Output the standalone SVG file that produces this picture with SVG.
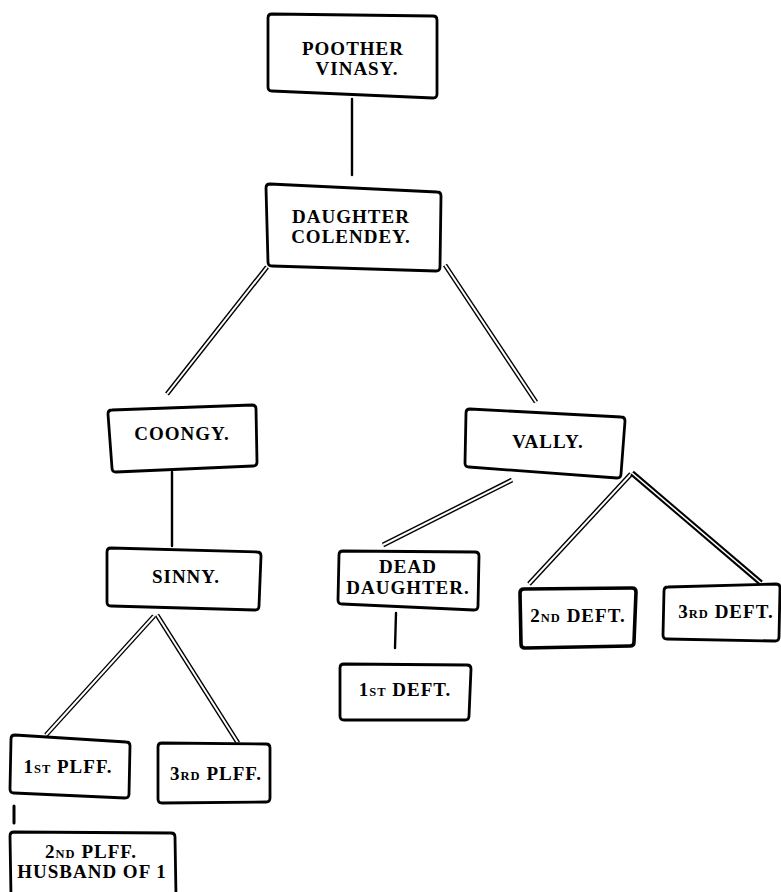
<svg xmlns="http://www.w3.org/2000/svg" xmlns:xlink="http://www.w3.org/1999/xlink" width="781" height="892" viewBox="0 0 781 892">
<style>
  .box { fill: #fff; stroke: #000; stroke-width: 2.8; stroke-linejoin: round; }
  .box.heavy { stroke-width: 3.6; }
  .single { stroke: #000; stroke-width: 2.4; fill: none; stroke-linecap: round; }
  .dbl { stroke: #000; stroke-width: 4.8; fill: none; }
  .dbl-gap { stroke: #fff; stroke-width: 2; fill: none; }
  .dbl.heavy { stroke-width: 5.6; }
  .dbl-gap.heavy { stroke-width: 1.6; }
  text { font-family: "Liberation Serif", "DejaVu Serif", serif; font-weight: bold; font-size: 19px; fill: #000; text-anchor: middle; letter-spacing: 1px; }
  .sc { font-size: 12.5px; }
</style>
<defs>
  <path id="c1" d="M267,267 L167,394"/>
  <path id="c2" d="M445,265 L536,402"/>
  <path id="c3" d="M512,480 L383,545"/>
  <path id="c4" d="M631,474 L529,584"/>
  <path id="c5" d="M632,473 L761,583"/>
  <path id="c6" d="M154,616 L46,735"/>
  <path id="c7" d="M157,615 L238,743"/>
</defs>
<g id="connectors">
  <line class="single" x1="352" y1="99" x2="352" y2="175"/>
  <line class="single" x1="172" y1="472" x2="172" y2="546"/>
  <line class="single" x1="396" y1="613" x2="395" y2="648"/>
  <line class="single" x1="14" y1="806" x2="14" y2="823" style="stroke-width:3"/>
  <use href="#c1" class="dbl"/><use href="#c1" class="dbl-gap"/>
  <use href="#c2" class="dbl"/><use href="#c2" class="dbl-gap"/>
  <use href="#c3" class="dbl"/><use href="#c3" class="dbl-gap"/>
  <use href="#c4" class="dbl"/><use href="#c4" class="dbl-gap"/>
  <use href="#c5" class="dbl heavy"/><use href="#c5" class="dbl-gap heavy"/>
  <use href="#c6" class="dbl"/><use href="#c6" class="dbl-gap"/>
  <use href="#c7" class="dbl"/><use href="#c7" class="dbl-gap"/>
</g>
<g id="pother">
  <path class="box" d="M272,14 L433,16 Q437,16 437,20 L437,94 Q437,98 433,98 L272,91 Q268,91 268,87 L268,18 Q268,14 272,14 Z"/>
  <text x="353" y="55">POOTHER</text>
  <text x="357" y="75">VINASY.</text>
</g>
<g id="daughter">
  <path class="box" d="M270,184 L437,192 Q441,192 441,196 L440,267 Q440,271 436,271 L272,266 Q268,266 268,262 L266,188 Q266,184 270,184 Z"/>
  <text x="351" y="223">DAUGHTER</text>
  <text x="351" y="243">COLENDEY.</text>
</g>
<g id="coongy">
  <path class="box" d="M112,410 L252,405 Q256,405 256,409 L257,462 Q257,466 253,466 L116,472 Q112,472 112,468 L108,414 Q108,410 112,410 Z"/>
  <text x="182" y="440">COONGY.</text>
</g>
<g id="sinny">
  <path class="box" d="M111,548 L257,552 Q261,552 261,556 L259,606 Q259,610 255,610 L111,606 Q107,606 107,602 L107,552 Q107,548 111,548 Z"/>
  <text x="186" y="583">SINNY.</text>
</g>
<g id="vally">
  <path class="box" d="M470,409 L621,417 Q625,417 625,421 L621,474 Q621,478 617,478 L469,467 Q465,467 465,463 L466,413 Q466,409 470,409 Z"/>
  <text x="548" y="448">VALLY.</text>
</g>
<g id="dead-daughter">
  <path class="box" d="M343,551 L475,552 Q479,552 479,556 L478,606 Q478,610 474,610 L342,604 Q338,604 338,600 L339,555 Q339,551 343,551 Z"/>
  <text x="408" y="573">DEAD</text>
  <text x="408" y="594">DAUGHTER.</text>
</g>
<g id="first-deft">
  <path class="box" d="M344,664 L467,665 Q471,665 471,669 L469,716 Q469,720 465,720 L344,720 Q340,720 340,716 L340,668 Q340,664 344,664 Z"/>
  <text x="405" y="696">1<tspan class="sc">ST</tspan> DEFT.</text>
</g>
<g id="second-deft">
  <path class="box heavy" d="M524,589 L632,588 Q636,588 636,592 L634,642 Q634,646 630,646 L525,648 Q521,648 521,644 L520,593 Q520,589 524,589 Z"/>
  <text x="578" y="622">2<tspan class="sc">ND</tspan> DEFT.</text>
</g>
<g id="third-deft">
  <path class="box" d="M668,587 L776,584 Q780,584 780,588 L779,637 Q779,641 775,641 L667,639 Q663,639 663,635 L664,591 Q664,587 668,587 Z"/>
  <text x="726" y="618">3<tspan class="sc">RD</tspan> DEFT.</text>
</g>
<g id="first-plff">
  <path class="box" d="M15,735 L126,742 Q130,742 130,746 L129,794 Q129,798 125,798 L14,793 Q10,793 10,789 L11,739 Q11,735 15,735 Z"/>
  <text x="68" y="773">1<tspan class="sc">ST</tspan> PLFF.</text>
</g>
<g id="third-plff">
  <path class="box" d="M162,743 L266,744 Q270,744 270,748 L270,798 Q270,802 266,802 L162,803 Q158,803 158,799 L158,747 Q158,743 162,743 Z"/>
  <text x="216" y="780">3<tspan class="sc">RD</tspan> PLFF.</text>
</g>
<g id="second-plff">
  <path class="box" d="M14,832 L171,833 Q175,833 175,837 L176,896 L11,896 L10,836 Q10,832 14,832 Z"/>
  <text x="91" y="858">2<tspan class="sc">ND</tspan> PLFF.</text>
  <text x="92" y="878">HUSBAND OF 1</text>
</g>
</svg>
